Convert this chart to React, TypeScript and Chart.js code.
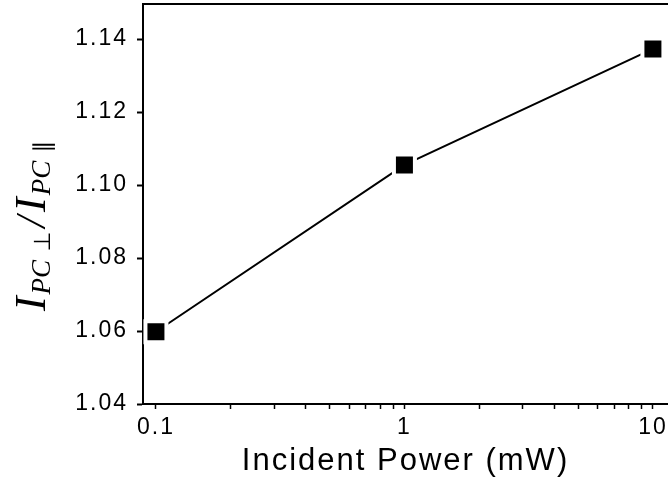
import React, { useEffect, useRef } from "react";
import { Chart, registerables } from "chart.js";

Chart.register(...registerables);

const powers = [0.1, 1, 10];
const ratios = [1.0598, 1.1055, 1.1373];
const yTickValues = [1.04, 1.06, 1.08, 1.1, 1.12, 1.14];
const xTickValues = [0.1, 0.2, 0.3, 0.4, 0.5, 0.6, 0.7, 0.8, 0.9, 1, 2, 3, 4, 5, 6, 7, 8, 9, 10];
const xMajorTicks = [0.1, 1, 10];
const xTitle = "Incident Power (mW)";
const yTitleParts = [
  { text: "I", kind: "main" },
  { text: "PC", kind: "sub" },
  { text: " \u22A5", kind: "subsym" },
  { text: "/", kind: "slash" },
  { text: "I", kind: "main" },
  { text: "PC", kind: "sub" },
  { text: " \u2225", kind: "subsym" },
];

const FONT = "'Liberation Sans', Arial, sans-serif";

const frameAndTitle = {
  id: "frameAndTitle",
  beforeDraw(chart: any) {
    chart.ctx.letterSpacing = "2px";
  },
  afterDraw(chart: any) {
    const ctx = chart.ctx;
    const ca = chart.chartArea;
    ctx.save();
    ctx.letterSpacing = "0px";
    ctx.strokeStyle = "#000";
    ctx.lineWidth = 2;
    ctx.beginPath();
    ctx.moveTo(ca.left - 1, ca.top);
    ctx.lineTo(ca.right, ca.top);
    ctx.stroke();

    const fonts: Record<string, string> = {
      main: "italic 44px 'Liberation Serif', serif",
      slash: "italic 42px 'Liberation Serif', serif",
      sub: "italic 27px 'Liberation Serif', serif",
      subsym: "23px 'DejaVu Sans', sans-serif",
    };
    const dys: Record<string, number> = { main: 0, slash: 0, sub: 5, subsym: 5 };
    const extra: Record<string, number> = { main: 2, slash: 4, sub: 1, subsym: 4 };
    let total = 0;
    const widths = yTitleParts.map((p) => {
      ctx.font = fonts[p.kind];
      const w = ctx.measureText(p.text).width + extra[p.kind];
      total += w;
      return w;
    });
    ctx.translate(ca.left - 112, (ca.top + ca.bottom) / 2 + 20);
    ctx.rotate(-Math.PI / 2);
    ctx.fillStyle = "#000";
    ctx.textBaseline = "alphabetic";
    ctx.textAlign = "left";
    let x = -total / 2;
    yTitleParts.forEach((p, i) => {
      ctx.font = fonts[p.kind];
      ctx.fillText(p.text, x, 14 + dys[p.kind]);
      x += widths[i];
    });
    ctx.restore();
  },
};

export default function App() {
  const ref = useRef<HTMLCanvasElement>(null);
  useEffect(() => {
    document.body.style.margin = "0";
    const chart = new Chart(ref.current!, {
      type: "line",
      data: {
        labels: powers,
        datasets: [
          {
            data: powers.map((p, i) => ({ x: p, y: ratios[i] })),
            borderColor: "#000",
            borderWidth: 2,
            pointStyle: "rect",
            pointRadius: 14.85,
            pointBackgroundColor: "#000",
            pointBorderColor: "#fff",
            pointBorderWidth: 4,
            tension: 0,
            clip: false,
          },
        ],
      },
      options: {
        responsive: false,
        animation: false,
        devicePixelRatio: 1,
        layout: { autoPadding: false, padding: { top: 4, right: 0, left: 0, bottom: 0 } },
        plugins: { legend: { display: false }, tooltip: { enabled: false } },
        scales: {
          x: {
            type: "logarithmic",
            min: 0.0887,
            max: 11.5,
            afterBuildTicks: (s: any) => {
              s.ticks = xTickValues.map((v) => ({ value: v, major: xMajorTicks.includes(v) }));
            },
            afterFit: (s: any) => {
              s.height = 80;
              s.paddingLeft = 0;
              s.paddingRight = 0;
            },
            ticks: {
              autoSkip: false,
              maxRotation: 0,
              minRotation: 0,
              padding: 5,
              color: "#000",
              font: { family: FONT, size: 23 },
              callback: (v: any) => (xMajorTicks.includes(v) ? String(v) : ""),
            },
            grid: {
              drawOnChartArea: false,
              drawTicks: true,
              tickLength: 5,
              tickColor: "#000",
              tickWidth: 1.5,
            },
            border: { display: true, color: "#000", width: 2 },
            title: {
              display: true,
              text: xTitle,
              color: "#000",
              font: { family: FONT, size: 31 },
              padding: { top: 0, bottom: 4 },
            },
          },
          y: {
            type: "linear",
            min: 1.04,
            max: 1.1496,
            afterBuildTicks: (s: any) => {
              s.ticks = yTickValues.map((v) => ({ value: v }));
            },
            afterFit: (s: any) => {
              s.width = 143;
              s.paddingTop = 0;
              s.paddingBottom = 0;
            },
            ticks: {
              padding: 9,
              color: "#000",
              font: { family: FONT, size: 23 },
              callback: (v: any) => Number(v).toFixed(2),
            },
            grid: {
              drawOnChartArea: false,
              drawTicks: true,
              tickLength: 6,
              tickColor: "#000",
              tickWidth: 2,
            },
            border: { display: true, color: "#000", width: 2 },
          },
        },
      },
      plugins: [frameAndTitle],
    });
    return () => chart.destroy();
  }, []);
  return (
    <div style={{ width: 668, height: 484, overflow: "hidden" }}>
      <canvas ref={ref} width={668} height={484} style={{ display: "block" }} />
    </div>
  );
}
